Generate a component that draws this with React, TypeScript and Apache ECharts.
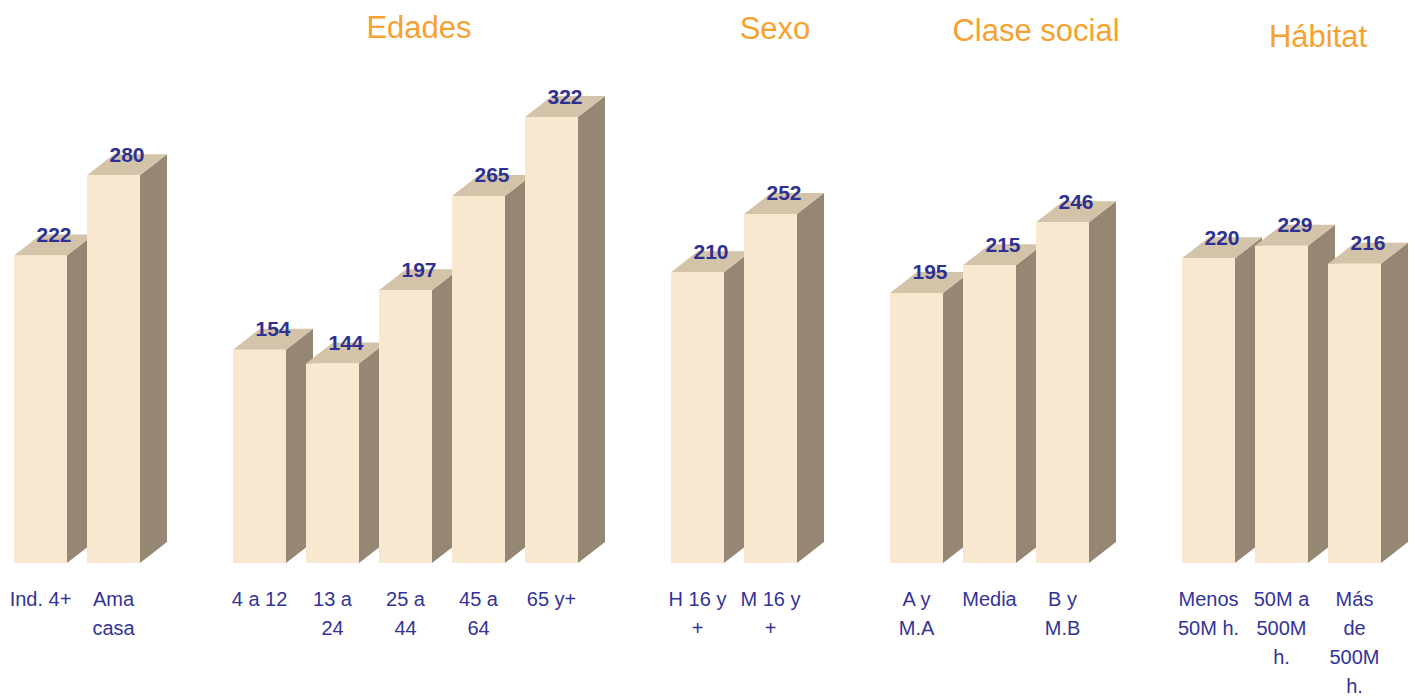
import React, { useEffect, useRef } from "react";
import * as echarts from "echarts";

const categories = [
  "Ind. 4+", "Ama\ncasa", "",
  "4 a 12", "13 a\n24", "25 a\n44", "45 a\n64", "65 y+", "",
  "H 16 y\n+", "M 16 y\n+", "",
  "A y\nM.A", "Media", "B y\nM.B", "",
  "Menos\n50M h.", "50M a\n500M\nh.", "Más\nde\n500M\nh.",
];
const values: (number | null)[] = [
  222, 280, null,
  154, 144, 197, 265, 322, null,
  210, 252, null,
  195, 215, 246, null,
  220, 229, 216,
];
const groupTitles = ["Edades", "Sexo", "Clase social", "Hábitat"];
const titlePos = [
  [419, 27],
  [775, 28],
  [1036, 30],
  [1318, 36],
];

const FONT = "Arial, 'Liberation Sans', sans-serif";
const FRONT = "#F8E8D0";
const TOP = "#D3C3A8";
const SIDE = "#968775";
const NAVY = "#2E3192";
const ORANGE = "#F7A130";

export default function App() {
  const ref = useRef<HTMLDivElement>(null);
  useEffect(() => {
    if (!ref.current) return;
    const chart = echarts.init(ref.current, undefined, { renderer: "svg" });
    const data = values
      .map((v, i) => (v === null ? null : [i, v]))
      .filter((d) => d !== null);
    const dx = 27;
    const dy = 21;
    chart.setOption({
      animation: false,
      backgroundColor: "#ffffff",
      grid: {
        left: 4,
        right: 24,
        top: 9,
        bottom: 134,
        containLabel: false,
        outerBoundsMode: "none",
      },
      xAxis: {
        type: "category",
        data: categories,
        axisLine: { show: false },
        axisTick: { show: false },
        splitLine: { show: false },
        axisLabel: {
          interval: 0,
          color: "#333399",
          fontFamily: FONT,
          fontSize: 20,
          lineHeight: 29,
          margin: 21,
          align: "center",
          verticalAlign: "top",
          hideOverlap: false,
        },
      },
      yAxis: {
        type: "value",
        min: 0,
        max: 400,
        show: false,
        splitLine: { show: false },
      },
      series: [
        {
          type: "custom",
          data,
          encode: { x: 0, y: 1 },
          renderItem: (params: any, api: any) => {
            const x = api.value(0);
            const v = api.value(1);
            const top = api.coord([x, v]);
            const bot = api.coord([x, 0]);
            const slot = api.size([1, 0])[0];
            const w = slot * 0.726;
            const l = top[0] - w / 2;
            const r = top[0] + w / 2;
            const ty = top[1];
            const by = bot[1];
            return {
              type: "group",
              children: [
                {
                  type: "polygon",
                  shape: { points: [[r, ty], [r + dx, ty - dy], [r + dx, by - dy], [r, by]] },
                  style: { fill: SIDE },
                },
                {
                  type: "polygon",
                  shape: { points: [[l, ty], [l + dx, ty - dy], [r + dx, ty - dy], [r, ty]] },
                  style: { fill: TOP },
                },
                {
                  type: "rect",
                  shape: { x: l, y: ty, width: w, height: by - ty },
                  style: { fill: FRONT },
                },
                {
                  type: "text",
                  x: top[0] + dx / 2,
                  y: ty - 21,
                  style: {
                    text: String(v),
                    fill: NAVY,
                    font: `bold 21px ${FONT}`,
                    align: "center",
                    verticalAlign: "middle",
                  },
                },
              ],
            };
          },
        },
      ],
      graphic: groupTitles.map((t, i) => ({
        type: "text",
        x: titlePos[i][0],
        y: titlePos[i][1],
        style: {
          text: t,
          fill: ORANGE,
          font: `31px ${FONT}`,
          align: "center",
          verticalAlign: "middle",
        },
      })),
    });
    return () => chart.dispose();
  }, []);
  return (
    <div
      ref={ref}
      style={{ position: "absolute", left: 0, top: 0, width: 1415, height: 697 }}
    />
  );
}
